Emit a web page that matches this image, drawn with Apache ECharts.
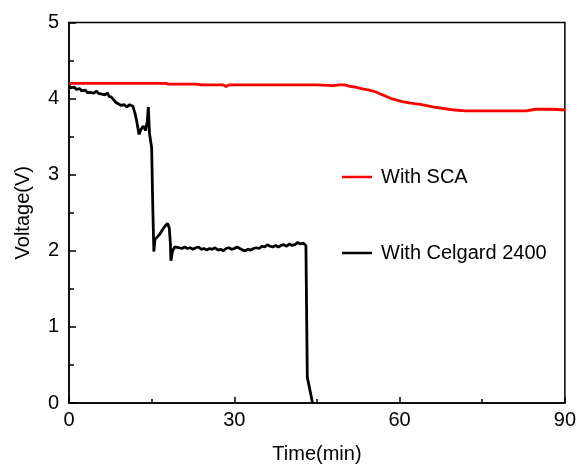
<!DOCTYPE html>
<html>
<head>
<meta charset="utf-8">
<script src="https://cdn.jsdelivr.net/npm/echarts@6/dist/echarts.min.js"></script>
<style>
  html, body { margin: 0; padding: 0; background: #fff; }
  #chart { width: 579px; height: 469px; }
</style>
</head>
<body>
<div id="chart"></div>
<script>
// Cell voltage over time for two separators
const seriesNames = ['With SCA', 'With Celgard 2400'];

// With SCA: time (min) and voltage (V)
const scaTime = [0, 5, 10, 15, 17.6, 18, 23, 24, 28, 28.5, 29, 32, 35, 38, 42, 45, 48, 49, 50,
  51, 52, 53, 54.5, 55.6, 56.5, 57.5, 58.5, 59.5, 60.5, 62, 64, 66, 68, 70, 72, 75, 78, 80, 83,
  84.6, 86, 88, 90];
const scaVolt = [4.20, 4.20, 4.20, 4.20, 4.20, 4.19, 4.19, 4.18, 4.18, 4.16, 4.18, 4.18, 4.18, 4.18, 4.18, 4.18, 4.17, 4.18, 4.18,
  4.16, 4.15, 4.13, 4.11, 4.09, 4.06, 4.03, 4.00, 3.98, 3.96, 3.94, 3.92, 3.89, 3.87, 3.85, 3.84, 3.84, 3.84, 3.84, 3.84,
  3.86, 3.86, 3.86, 3.85];

// With Celgard 2400: time (min) and voltage (V)
const celTime = [0, 0.3, 0.6, 1, 1.3, 1.6, 2, 2.3, 2.6, 3, 3.3, 3.6, 4, 4.5, 5, 5.3, 5.6, 6, 6.5, 7, 7.3, 7.7, 8, 8.5, 9, 9.5, 10,
  10.5, 11, 11.2, 11.6, 12, 12.3, 12.7, 13.1, 13.5, 13.9, 14.2, 14.4, 14.6, 14.8, 15.0, 15.2, 15.4,
  15.6, 16.0, 16.5, 17.0, 17.5, 17.9, 18.2, 18.4, 18.5, 18.8, 19.2,
  19.5, 20, 20.5, 21, 21.5, 22, 22.5, 23, 23.5, 24, 24.5, 25, 25.5, 26, 26.5, 27, 27.5, 28, 28.5, 29, 29.5,
  30, 30.5, 31, 31.5, 32, 32.5, 33, 33.5, 34, 34.5, 35, 35.5, 36, 36.5, 37, 37.5, 38, 38.5, 39, 39.5,
  40, 40.5, 41, 41.5, 42, 42.5, 43, 43.1, 43.25, 44.2];
const celVolt = [4.17, 4.14, 4.16, 4.15, 4.12, 4.14, 4.13, 4.10, 4.12, 4.11, 4.08, 4.10, 4.08, 4.07, 4.10, 4.07, 4.08, 4.06, 4.05, 4.07, 4.03, 4.02, 4.00, 3.95, 3.93, 3.91, 3.92,
  3.89, 3.92, 3.94, 3.90, 3.80, 3.70, 3.53, 3.60, 3.64, 3.58, 3.70, 3.89, 3.55, 3.45, 3.35, 2.60, 1.99,
  2.15, 2.18, 2.22, 2.28, 2.33, 2.36, 2.30, 2.10, 1.87, 2.00, 2.05,
  2.07, 2.04, 2.03, 2.05, 2.03, 2.04, 2.02, 2.04, 2.05, 2.02, 2.03, 2.01, 2.03, 2.02, 2.04, 2.01, 2.02, 2.00, 2.03, 2.04, 2.02,
  2.03, 2.05, 2.03, 2.01, 2.00, 2.02, 2.01, 2.03, 2.04, 2.03, 2.06, 2.05, 2.08, 2.06, 2.05, 2.07, 2.05, 2.07, 2.08, 2.06,
  2.09, 2.07, 2.08, 2.11, 2.09, 2.10, 2.07, 2.06, 0.34, 0];

// Axis ticks
const xTicks = [0, 30, 60, 90];
const yTicks = [0, 1, 2, 3, 4, 5];

const pairs = (xs, ys) => xs.map((x, i) => [x, ys[i]]);

const font = 'Liberation Sans, Arial, sans-serif';
const axisLine = { show: true, lineStyle: { color: '#000', width: 1.5 } };

const chart = echarts.init(document.getElementById('chart'), null, { renderer: 'canvas' });
chart.setOption({
  animation: false,
  backgroundColor: '#fff',
  grid: {
    left: 69, right: 10, top: 22.5, bottom: 60,
    show: true, borderColor: '#000', borderWidth: 1.5, backgroundColor: 'transparent'
  },
  legend: {
    orient: 'vertical',
    left: 337, top: 162,
    itemWidth: 30, itemHeight: 20, itemGap: 56,
    icon: 'path://M0,0 L30,0 L30,2.5 L0,2.5 Z',
    textStyle: { fontFamily: font, fontSize: 20, color: '#000', padding: [0, 0, 0, 4] },
    data: seriesNames
  },
  xAxis: {
    type: 'value',
    min: xTicks[0], max: xTicks[xTicks.length - 1], interval: 30,
    name: 'Time(min)', nameLocation: 'middle', nameGap: 41,
    nameTextStyle: { fontFamily: font, fontSize: 20, color: '#000' },
    axisLine,
    axisTick: { show: true, inside: true, length: 6, lineStyle: { color: '#000', width: 1.5 } },
    minorTick: { show: true, splitNumber: 2, length: 4, lineStyle: { color: '#000', width: 1.5 } },
    axisLabel: { fontFamily: font, fontSize: 20, color: '#000', margin: 7 },
    splitLine: { show: false }
  },
  yAxis: {
    type: 'value',
    min: yTicks[0], max: yTicks[yTicks.length - 1], interval: 1,
    name: 'Voltage(V)', nameLocation: 'middle', nameGap: 36,
    nameTextStyle: { fontFamily: font, fontSize: 20, color: '#000' },
    axisLine,
    axisTick: { show: true, inside: true, length: 7, lineStyle: { color: '#000', width: 1.5 } },
    minorTick: { show: true, splitNumber: 2, length: 5, lineStyle: { color: '#000', width: 1.5 } },
    axisLabel: { fontFamily: font, fontSize: 20, color: '#000', margin: 10 },
    splitLine: { show: false }
  },
  series: [
    {
      name: seriesNames[0], type: 'line', showSymbol: false, symbol: 'none',
      data: pairs(scaTime, scaVolt),
      lineStyle: { color: '#ff0000', width: 2.8 }, itemStyle: { color: '#ff0000' }
    },
    {
      name: seriesNames[1], type: 'line', showSymbol: false, symbol: 'none',
      data: pairs(celTime, celVolt),
      lineStyle: { color: '#000', width: 2.8 }, itemStyle: { color: '#000' }
    }
  ]
});
</script>
</body>
</html>
